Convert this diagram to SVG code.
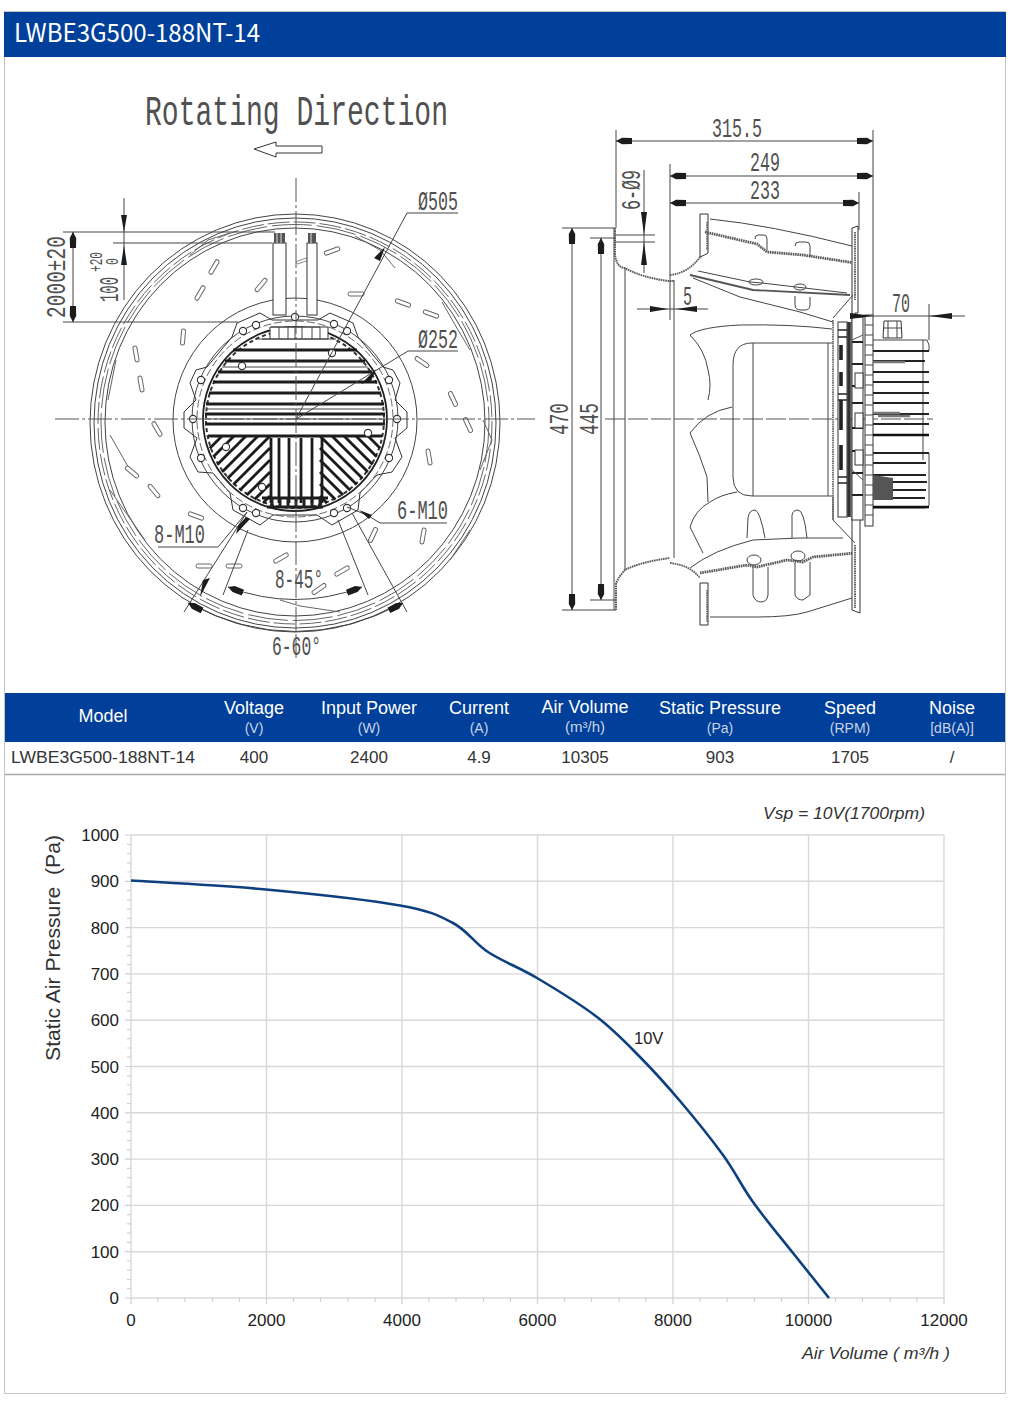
<svg xmlns="http://www.w3.org/2000/svg" width="1010" height="1414" viewBox="0 0 1010 1414">
<style>
text{font-family:"Liberation Sans",Arial,sans-serif}
.m{font-family:"Liberation Mono","DejaVu Sans Mono",monospace;font-size:28px;fill:#505050}
.l{fill:none;stroke:#444;stroke-width:1}
.g{fill:none;stroke:#666;stroke-width:1}
.w{fill:#fff;stroke:#333;stroke-width:1}
.dim{fill:none;stroke:#444;stroke-width:1;marker-start:url(#ah);marker-end:url(#ah)}
.ext{fill:none;stroke:#444;stroke-width:1}
.cl{fill:none;stroke:#555;stroke-width:1;stroke-dasharray:24 3 3 3}
.bar{stroke:#1c1c1c;stroke-width:3.2;fill:none}
.bar2{stroke:#1c1c1c;stroke-width:2.8;fill:none}
.dots{fill:none;stroke:#5a5a5a;stroke-width:2.8;stroke-dasharray:1.6 .7}
.hd{fill:#fff;font-size:18px;text-anchor:middle}
.sb{fill:#c9d4e8;font-size:14px;text-anchor:middle}
.cell{fill:#333;font-size:17px;text-anchor:middle}
.grid{stroke:#d8d8de;stroke-width:1.4;fill:none}
.tick{stroke:#cfcfd4;stroke-width:1.2;fill:none}
.yl{fill:#222;font-size:17px;text-anchor:end}
.xl{fill:#222;font-size:17px;text-anchor:middle}
.it{fill:#333;font-size:16.5px;font-style:italic}
.fin{stroke:#222;stroke-width:2.2;fill:none}
</style>
<defs>
<marker id="ah" markerUnits="userSpaceOnUse" markerWidth="18" markerHeight="8" refX="16" refY="4" orient="auto-start-reverse"><path d="M0 1L10 .8L16 4L10 7.200L0 7Z" fill="#1c1c1c"/></marker>
<rect id="slot" x="-8" y="-2" width="16" height="4" rx="1.800" fill="#fff" stroke="#666" stroke-width="1"/>
<circle id="sc" r="3.600" fill="#fff" stroke="#333" stroke-width="1.100"/>
</defs>
<rect width="1010" height="1414" fill="#fff"/>

<g id="frame">
<rect x="4.500" y="11.500" width="1001" height="1382" fill="#fff" stroke="#c4c4c4"/>
<rect x="4" y="12" width="1002" height="45" fill="#00409a"/>
<text x="14" y="42" fill="#fff" style="font-family:'Noto Sans CJK SC','Noto Sans',sans-serif;font-size:25px" textLength="246" lengthAdjust="spacingAndGlyphs">LWBE3G500-188NT-14</text>
</g>

<g id="rotation-title">
<text class="m" x="145" y="125" style="font-size:42px" textLength="303" lengthAdjust="spacingAndGlyphs">Rotating Direction</text>
<path class="w" d="M254 149L276 142V146H322V153H276V157Z"/>
</g>

<g id="front-view">
<ellipse class="l" cx="295" cy="423" rx="205" ry="209"/>
<ellipse class="l" cx="295" cy="423" rx="201" ry="205"/>
<ellipse class="g" cx="295" cy="423" rx="197" ry="201" stroke-dasharray="22 4"/>
<ellipse class="g" cx="295" cy="422.500" rx="194" ry="198" stroke-dasharray="40 5"/>
<ellipse class="l" cx="295" cy="422" rx="190" ry="194"/>
<path class="g" d="M190 255L208 240L230 233M395 268L380 250L355 236M442 302L458 330L470 350M483 420L492 440L480 470M450 560L470 530M340 612L300 606L280 600M130 470L110 435M116 360L108 400M145 540L110 490"/>
<g id="blades">
<use href="#slot" transform="translate(332 251) rotate(-20)"/><use href="#slot" transform="translate(302 261) rotate(-20) scale(.7)"/><use href="#slot" transform="translate(214 267) rotate(-60)"/><use href="#slot" transform="translate(200 293) rotate(-60)"/><use href="#slot" transform="translate(261 285) rotate(-50)"/><use href="#slot" transform="translate(356 294)"/><use href="#slot" transform="translate(403 303) rotate(20)"/><use href="#slot" transform="translate(431 314) rotate(20)"/><use href="#slot" transform="translate(422 362) rotate(35)"/><use href="#slot" transform="translate(183 337) rotate(-85)"/><use href="#slot" transform="translate(136 354) rotate(80)"/><use href="#slot" transform="translate(141 384) rotate(80)"/><use href="#slot" transform="translate(157 429) rotate(60)"/><use href="#slot" transform="translate(132 472) rotate(40)"/><use href="#slot" transform="translate(154 491) rotate(50)"/><use href="#slot" transform="translate(196 516) rotate(20)"/><use href="#slot" transform="translate(204 566)"/><use href="#slot" transform="translate(234 566)"/><use href="#slot" transform="translate(281 558) rotate(-30)"/><use href="#slot" transform="translate(342 571) rotate(-30)"/><use href="#slot" transform="translate(319 589) rotate(-35)"/><use href="#slot" transform="translate(373 535) rotate(-65)"/><use href="#slot" transform="translate(423 536) rotate(-80)"/><use href="#slot" transform="translate(429 457) rotate(80)"/><use href="#slot" transform="translate(453 399) rotate(65)"/><use href="#slot" transform="translate(468 425) rotate(65)"/>
</g>
<circle class="l" cx="295" cy="420" r="122"/>
<path class="w" d="M232 337L237 323L260 313L272 320H318L330 313L353 323L358 337L383 367L393 370L400 383L395 400L407 412V428L395 438L402 457L392 472L377 475L360 493L358 510L332 525L317 515H273L260 525L233 510L230 493L213 473L198 472L190 457L197 438L184 428V412L196 400L190 383L196 370L207 367Z"/>
<circle class="l" cx="295" cy="419" r="103"/>
<circle class="g" cx="295" cy="419" r="98" stroke-dasharray="8 3"/>
<circle cx="295" cy="419" r="92" fill="#fff" stroke="#222" stroke-width="1.800"/>
<circle cx="295" cy="419" r="89" fill="none" stroke="#333" stroke-width="2" stroke-dasharray="4 3"/>
<g id="cables">
<rect class="w" x="273" y="243" width="13" height="72"/><rect class="w" x="307" y="243" width="10" height="72"/>
<path d="M274 233h11v10h-11zM308 233h8v10h-8z" fill="#555"/>
<path d="M277 233v10M281 233v10M311 233v10" stroke="#ddd" fill="none"/>
</g>
<g id="fins">
<path class="w" d="M262 339H328V327H270V339"/>
<path class="l" d="M271 327H320V339M279 327V339M288 327V339M295 327V339M302 327V339M312 327V339M255 339H336"/>
<path class="bar" d="M233 350H357M225 361H365M218 372H372M213 382H377M209 393H381M206 404H384M205 414H385M205 424H385M208 436H382"/>
<path class="l" d="M222 367H368M206 409H384M205 419H385"/>
<path class="bar2" d="M271 438V503M279 438V503M289 438V503M301 438V503M312 438V503M322 438V503"/>
<path class="bar2" d="M222 436L209.800 448.200M234 436L213.300 456.700M246 436L217.400 464.600M258 436L222.100 471.900M270 436L227.500 478.500M270 448L233.400 484.600M270 460L239.800 490.200M270 472L246.900 495.100M270 484L254.600 499.400M270 496L263 503"/>
<path class="bar2" d="M368 436L380.200 448.200M356 436L376.700 456.700M344 436L372.600 464.600M332 436L367.900 471.900M320 436L362.500 478.500M320 448L356.600 484.600M320 460L350.200 490.200M320 472L343.100 495.100M320 484L335.400 499.400M320 496L327 503"/>
<path class="bar2" d="M262 498H328M267 507H323"/>
<path d="M272 498v9M280 498v9M288 498v9M296 498v9M304 498v9M312 498v9M320 498v9" stroke="#222" stroke-width="3" fill="none"/>
</g>
<g id="screws">
<use href="#sc" x="243" y="331"/><use href="#sc" x="256" y="325"/><use href="#sc" x="334" y="324"/><use href="#sc" x="347" y="331"/><use href="#sc" x="201" y="380"/><use href="#sc" x="193" y="419"/><use href="#sc" x="201" y="458"/><use href="#sc" x="389" y="380"/><use href="#sc" x="397" y="419"/><use href="#sc" x="389" y="458"/><use href="#sc" x="243" y="508"/><use href="#sc" x="256" y="513"/><use href="#sc" x="334" y="513"/><use href="#sc" x="347" y="508"/><use href="#sc" x="242" y="366"/><use href="#sc" x="332" y="353"/><use href="#sc" x="226" y="447"/><use href="#sc" x="262" y="487"/><use href="#sc" x="368" y="433"/><use href="#sc" x="295" y="317"/>
</g>
<path class="cl" d="M296 178V658"/>
<path class="cl" d="M55 419H535"/>
<path class="l" d="M296 419L407 213H458M296 419L408 351H458"/>
<path d="M385 247L380 261L374 258Z" fill="#1c1c1c"/>
<path d="M376 369L371 381L361 384Z" fill="#1c1c1c"/>
<text class="m" x="418" y="210" textLength="40" lengthAdjust="spacingAndGlyphs">Ø505</text>
<text class="m" x="418" y="348" textLength="40" lengthAdjust="spacingAndGlyphs">Ø252</text>

<path class="ext" d="M63 232H275M63 322H238M113 243H272"/>
<path class="dim" d="M73 232V322"/>
<text class="m" transform="translate(65 318) rotate(-90)" textLength="82" lengthAdjust="spacingAndGlyphs">2000±20</text>
<path class="ext" d="M124 198V300"/>
<path d="M124 232L121 215H127ZM124 245L121 265H127Z" fill="#1c1c1c"/>
<text class="m" transform="translate(118 302) rotate(-90)" textLength="25" lengthAdjust="spacingAndGlyphs">100</text>
<text class="m" style="font-size:18px" transform="translate(102 272) rotate(-90)" textLength="20" lengthAdjust="spacingAndGlyphs">+20</text>
<text class="m" style="font-size:18px" transform="translate(118 265) rotate(-90)" textLength="7" lengthAdjust="spacingAndGlyphs">0</text>

<path class="l" d="M380 523H447M380 523L367 515L347 507"/>
<path d="M359 510L372 515L369 519Z" fill="#1c1c1c"/>
<text class="m" x="397" y="519" textLength="51" lengthAdjust="spacingAndGlyphs">6-M10</text>
<path class="l" d="M158 547H218L247 512M248 530L223 595M247 512L184 612M338 520L368 595M352 513L407 612"/>
<path d="M250 519L236 534L238 526L246 517Z" fill="#1c1c1c"/>
<path d="M210 578L200 597L203 580Z" fill="#1c1c1c"/>
<text class="m" x="154" y="543" textLength="51" lengthAdjust="spacingAndGlyphs">8-M10</text>
<path class="dim" d="M228 587Q295 612 362 587"/>
<path class="dim" d="M188 603Q295 660 403 603"/>
<text class="m" x="275" y="588" textLength="48" lengthAdjust="spacingAndGlyphs">8-45°</text>
<text class="m" x="272" y="655" textLength="49" lengthAdjust="spacingAndGlyphs">6-60°</text>
</g>

<g id="side-view">
<path class="cl" d="M605 419H933" style="stroke-dasharray:20 3"/>
<path class="l" d="M614 228V610M625 268V570M674 280V558"/>
<path class="dots" style="stroke-width:2" d="M615 228V255Q617 268 625 268Q640 277 668 281H674M616 610V583Q620 575 625 570Q640 562 670 558"/>
<path class="dots" style="stroke-width:1.800" d="M670 275Q690 273 703 253M670 563Q690 565 700 578"/>
<path class="w" d="M700 214H708V253Q705 255 700 257ZM700 583H708V625H700Z"/>
<path class="dots" style="stroke-width:1.500" d="M707 222V250M707 590V622"/>
<path class="l" d="M710 219Q770 225 852 246M710 617H757Q790 617 807 612L852 598"/>
<path class="dots" d="M705 232L757 244L767 252L803 255L855 263M700 573L747 565L757 567L787 560L803 562L813 557L855 553"/>
<path class="w" d="M852 228L858 226V313H855V517H860V613L852 610Z"/>
<path class="dots" style="stroke-width:1.800" d="M855 232V300M855 545V608"/>
<path class="l" d="M755 239Q755 235 758 235H764Q767 235 767 239V250M795 246Q795 242 799 242H806Q810 242 810 246V257"/>
<path class="l" d="M698 271L750 282L762 283L847 293M693 278L740 297L800 312L833 322M833 318L853 295"/>
<path d="M690 275L753 290L850 295" fill="none" stroke="#555" stroke-width="1.800"/>
<path class="l" d="M795 296V305Q795 310 801 310H805Q810 310 810 305V297"/>
<ellipse class="l" cx="756" cy="282" rx="7" ry="3"/><ellipse class="l" cx="800" cy="287" rx="6" ry="3"/>
<path class="l" d="M690 335Q700 327 740 325Q790 324 832 329M690 335Q705 350 708 370Q712 385 708 400"/>
<path class="l" d="M732 407Q705 412 690 433Q700 455 707 477L708 502M737 492Q720 495 710 502Q695 510 690 527L703 553M690 568Q713 550 753 540Q800 537 843 538"/>
<path class="l" d="M752 343Q733 343 733 365V477Q733 496 752 496H833M752 343H833M753 343V496M828 343V496"/>
<path class="l" d="M833 497V520L855 543"/>
<path class="l" d="M747 538L748 518Q749 510 755 510Q760 511 765 538M792 538V515Q793 510 798 510Q804 510 807 538"/>
<path class="l" d="M753 567V595Q755 602 761 602Q767 602 768 595V567M795 562V595Q797 600 803 600L810 595V562"/>
<ellipse class="l" cx="754" cy="560" rx="7" ry="5"/><ellipse class="l" cx="798" cy="556" rx="7" ry="5"/>
<g id="motor-stack">
<path class="dots" style="stroke-width:1.600" d="M833 320V520"/>
<rect class="w" x="838" y="322" width="9" height="195"/>
<path d="M849 322V517" stroke="#333" stroke-width="3.600" fill="none"/>
<rect class="w" x="852" y="317" width="11" height="203"/>
<rect class="w" x="865" y="315" width="8" height="211"/>
<path class="l" d="M865 325H873M865 335H873M865 345H873M865 355H873M865 365H873M865 375H873M865 385H873M865 395H873M865 405H873M865 415H873M865 425H873M865 435H873M865 445H873M865 455H873M865 465H873M865 475H873M865 485H873M865 495H873M865 505H873M865 515H873"/>
<path d="M852 342H863M852 364H863M852 386H863M852 403H863M852 428H863M852 451H863M852 473H863M852 495H863" stroke="#222" stroke-width="1.800" fill="none"/>
<path d="M841 345V360M841 372V386M841 400V430M841 445V470" stroke="#222" stroke-width="3.600" fill="none"/>
<path class="fin" style="stroke-width:1.400" d="M838 330H847M838 337H847M838 394H847M838 400H847M838 477H847M838 483H847"/>
<rect class="w" x="855" y="373" width="8" height="15"/><rect class="w" x="855" y="413" width="8" height="15"/><rect class="w" x="855" y="450" width="8" height="15"/>
<path d="M852 340L863 335M852 470L863 480" stroke="#555" fill="none"/>
</g>
<g id="heatsink">
<path class="l" d="M873 340H927L929 345V351M923 340V460M929 453V505Q929 508 925 508H873"/>
<path class="fin" d="M873 351H929M873 361H925M873 372H929M873 382H929M873 393H929M873 403H929M873 414H929M873 424H929M873 453H929M873 463H926M873 475H926M873 482H927M873 490H926M873 498H925"/>
<path d="M873 435H929M873 507H929" stroke="#111" stroke-width="2.600" fill="none"/>
<path d="M873 362H905M873 413H900M878 416H910" stroke="#777" stroke-width="2.600" fill="none"/>
<path d="M873 475L893 478V500H873Z" fill="#555"/>
<path class="w" d="M884 321H901L902 338H883Z"/><path class="l" d="M888 321V338M897 321V338M884 328H901"/>
</g>
<path class="ext" d="M616 130V228M873 130V315M670 164V320M859 192V230M929 304V340M562 228H615M562 610H616M590 238H616M590 600H616M615 235H655M615 242H655"/>
<path class="dim" d="M616 141H873"/>
<path class="dim" d="M670 176H873"/>
<path class="dim" d="M670 203H859"/>
<path class="dim" d="M572 228V610"/>
<path class="dim" d="M601 238V600"/>
<path class="ext" d="M644 170V273"/>
<path d="M644 235L641 212H647ZM644 242L641 265H647Z" fill="#1c1c1c"/>
<path class="ext" d="M637 309H708"/>
<path d="M668 309L650 306V312ZM676 309L697 306V312Z" fill="#1c1c1c"/>
<path class="ext" d="M850 316H965"/>
<path d="M873 316L850 313V319ZM929 316L952 313V319Z" fill="#1c1c1c"/>
<text class="m" x="712" y="137" textLength="50" lengthAdjust="spacingAndGlyphs">315.5</text>
<text class="m" x="750" y="171" textLength="30" lengthAdjust="spacingAndGlyphs">249</text>
<text class="m" x="750" y="199" textLength="30" lengthAdjust="spacingAndGlyphs">233</text>
<text class="m" transform="translate(640 210) rotate(-90)" textLength="40" lengthAdjust="spacingAndGlyphs">6-Ø9</text>
<text class="m" x="683" y="305" textLength="9" lengthAdjust="spacingAndGlyphs">5</text>
<text class="m" x="892" y="312" textLength="18" lengthAdjust="spacingAndGlyphs">70</text>
<text class="m" transform="translate(568 435) rotate(-90)" textLength="32" lengthAdjust="spacingAndGlyphs">470</text>
<text class="m" transform="translate(598 435) rotate(-90)" textLength="32" lengthAdjust="spacingAndGlyphs">445</text>
</g>

<g id="spec-table">
<rect x="5" y="693" width="1000" height="49" fill="#00409a"/>
<path d="M5 774.500H1005" stroke="#a8a8a8" stroke-width="1.400"/>
<text class="hd" x="103" y="722">Model</text>
<text class="hd" x="254" y="714">Voltage</text><text class="sb" x="254" y="733">(V)</text>
<text class="hd" x="369" y="714">Input Power</text><text class="sb" x="369" y="733">(W)</text>
<text class="hd" x="479" y="714">Current</text><text class="sb" x="479" y="733">(A)</text>
<text class="hd" x="585" y="713">Air Volume</text><text class="sb" x="585" y="732" style="font-size:15px">(m³/h)</text>
<text class="hd" x="720" y="714">Static Pressure</text><text class="sb" x="720" y="733">(Pa)</text>
<text class="hd" x="850" y="714">Speed</text><text class="sb" x="850" y="733">(RPM)</text>
<text class="hd" x="952" y="714">Noise</text><text class="sb" x="952" y="733">[dB(A)]</text>
<text class="cell" x="103" y="763" textLength="184" lengthAdjust="spacingAndGlyphs">LWBE3G500-188NT-14</text>
<text class="cell" x="254" y="763">400</text><text class="cell" x="369" y="763">2400</text><text class="cell" x="479" y="763">4.9</text><text class="cell" x="585" y="763">10305</text><text class="cell" x="720" y="763">903</text><text class="cell" x="850" y="763">1705</text><text class="cell" x="952" y="763">/</text>
</g>

<g id="chart">
<path class="grid" d="M131 835H944M131 881.300H944M131 927.600H944M131 973.900H944M131 1020.200H944M131 1066.500H944M131 1112.800H944M131 1159.100H944M131 1205.400H944M131 1251.700H944M131 1298H944M131 835V1298M266.500 835V1298M402 835V1298M537.500 835V1298M673 835V1298M808.500 835V1298M944 835V1298"/>
<path class="tick" d="M125 835H131M125 881.300H131M125 927.600H131M125 973.900H131M125 1020.200H131M125 1066.500H131M125 1112.800H131M125 1159.100H131M125 1205.400H131M125 1251.700H131M125 1298H131"/>
<path class="tick" d="M127 844.300H131M127 853.500H131M127 862.800H131M127 872H131M127 890.600H131M127 899.800H131M127 909.100H131M127 918.300H131M127 936.900H131M127 946.100H131M127 955.400H131M127 964.600H131M127 983.200H131M127 992.400H131M127 1001.700H131M127 1010.900H131M127 1029.500H131M127 1038.700H131M127 1048H131M127 1057.200H131M127 1075.800H131M127 1085H131M127 1094.300H131M127 1103.500H131M127 1122.100H131M127 1131.300H131M127 1140.600H131M127 1149.800H131M127 1168.400H131M127 1177.600H131M127 1186.900H131M127 1196.100H131M127 1214.700H131M127 1223.900H131M127 1233.200H131M127 1242.400H131M127 1261H131M127 1270.200H131M127 1279.500H131M127 1288.700H131"/>
<path class="tick" d="M131 1298V1304M266.500 1298V1304M402 1298V1304M537.500 1298V1304M673 1298V1304M808.500 1298V1304M944 1298V1304M158 1298V1302M185 1298V1302M212.500 1298V1302M239.500 1298V1302M293.500 1298V1302M320.500 1298V1302M348 1298V1302M375 1298V1302M429 1298V1302M456 1298V1302M483.500 1298V1302M510.500 1298V1302M564.500 1298V1302M591.500 1298V1302M619 1298V1302M646 1298V1302M700 1298V1302M727 1298V1302M754.500 1298V1302M781.500 1298V1302M835.500 1298V1302M862.500 1298V1302M890 1298V1302M917 1298V1302"/>
<path d="M131 880.500C153.500 882 221.200 885.300 266 889.500C310.800 893.700 368.800 899.900 400 905.500C431.200 911.100 438.300 915.300 453 923C467.700 930.750 474 942.800 488 952C502 961.200 518.800 967.200 537 978C555.200 988.800 579.800 1003.800 597 1017C614.200 1030.200 626.200 1043 640 1057C653.800 1071 666.200 1084.700 680 1101C693.800 1117.300 710.800 1138.200 723 1155C735.200 1171.800 741.300 1185.700 753 1202C764.700 1218.300 780.300 1237 793 1253C799 1260.500 823 1290.500 829 1298" fill="none" stroke="#0e4080" stroke-width="2.600"/>
<text class="yl" x="119" y="841">1000</text><text class="yl" x="119" y="887">900</text><text class="yl" x="119" y="934">800</text><text class="yl" x="119" y="980">700</text><text class="yl" x="119" y="1026">600</text><text class="yl" x="119" y="1073">500</text><text class="yl" x="119" y="1119">400</text><text class="yl" x="119" y="1165">300</text><text class="yl" x="119" y="1211">200</text><text class="yl" x="119" y="1258">100</text><text class="yl" x="119" y="1304">0</text>
<text class="xl" x="131" y="1326">0</text><text class="xl" x="266.500" y="1326">2000</text><text class="xl" x="402" y="1326">4000</text><text class="xl" x="537.500" y="1326">6000</text><text class="xl" x="673" y="1326">8000</text><text class="xl" x="808.500" y="1326">10000</text><text class="xl" x="944" y="1326">12000</text>
<text transform="translate(60 1061) rotate(-90)" fill="#333" style="font-size:20px;white-space:pre" textLength="226" lengthAdjust="spacingAndGlyphs">Static Air Pressure  (Pa)</text>
<text class="it" x="763" y="819" textLength="162" lengthAdjust="spacingAndGlyphs">Vsp = 10V(1700rpm)</text>
<text x="634" y="1044" fill="#222" style="font-size:16.500px">10V</text>
<text class="it" x="802" y="1359" textLength="148" lengthAdjust="spacingAndGlyphs">Air Volume ( m³/h )</text>
</g>
</svg>
